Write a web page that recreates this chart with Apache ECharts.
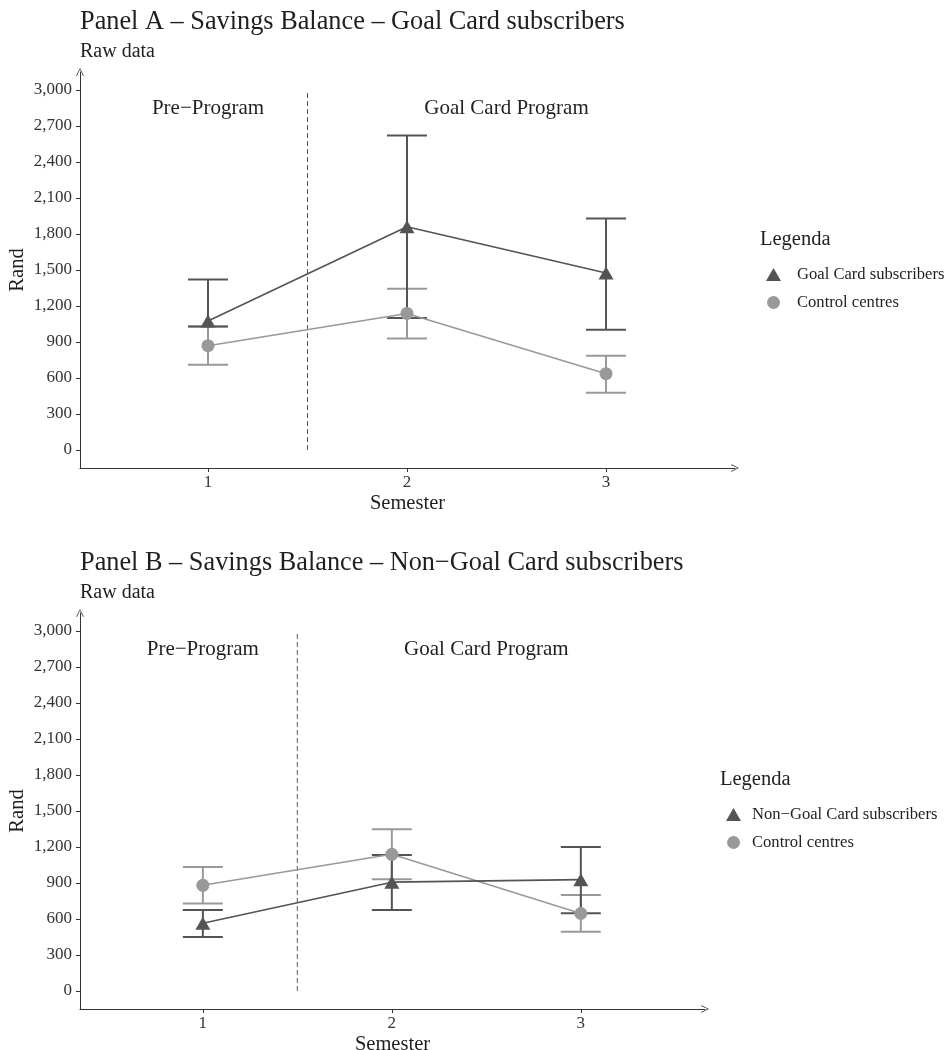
<!DOCTYPE html>
<html>
<head>
<meta charset="utf-8">
<script src="https://cdn.jsdelivr.net/npm/echarts@6/dist/echarts.min.js"></script>
<style>
html,body{margin:0;padding:0;background:#fff;}
#chart{width:947px;height:1050px;}
</style>
</head>
<body>
<div id="chart"></div>
<script>
// ---- data ----
const semesters = [1, 2, 3];
const yTicks = [0, 300, 600, 900, 1200, 1500, 1800, 2100, 2400, 2700, 3000];
const phaseLabels = ['Pre−Program', 'Goal Card Program'];
const phaseX = [1, 2.5];
const phaseY = 2845;
const dividerX = 1.5;

// Panel A
const A_goalMean = [1075, 1860, 1475];
const A_goalLow  = [1030, 1100, 1003];
const A_goalHigh = [1420, 2620, 1930];
const A_ctrlMean = [869, 1138, 636];
const A_ctrlLow  = [711, 930, 478];
const A_ctrlHigh = [1030, 1344, 786];

// Panel B
const B_nonMean  = [565, 907, 928];
const B_nonLow   = [450, 676, 648];
const B_nonHigh  = [675, 1133, 1200];
const B_ctrlMean = [881, 1139, 646];
const B_ctrlLow  = [729, 931, 493];
const B_ctrlHigh = [1033, 1347, 800];

// ---- styling ----
const FONT = 'Liberation Serif';
const DARK = '#545454';
const LIGHT = '#999999';
const AXIS = '#333333';
const TXT = '#1f1f1f';
const CHEVRON = 'path://M0,10L5,0L10,10L9.1,10.6L5,1.8L0.9,10.6Z';

function pts(xs, ys) { return xs.map((x, i) => [x, ys[i]]); }
function bars(xs, lo, hi) { return xs.map((x, i) => [x, lo[i], hi[i]]); }

function errRender(color) {
  return function (params, api) {
    const x = api.value(0), lo = api.value(1), hi = api.value(2);
    const a = api.coord([x, lo]), b = api.coord([x, hi]);
    const hw = 20;
    const st = { stroke: color, lineWidth: 2 };
    return {
      type: 'group',
      children: [
        { type: 'line', shape: { x1: a[0], y1: a[1], x2: b[0], y2: b[1] }, style: st },
        { type: 'line', shape: { x1: a[0] - hw, y1: a[1], x2: a[0] + hw, y2: a[1] }, style: st },
        { type: 'line', shape: { x1: b[0] - hw, y1: b[1], x2: b[0] + hw, y2: b[1] }, style: st }
      ]
    };
  };
}

function xAxisDef(gi, min, max) {
  return {
    type: 'value', gridIndex: gi, min: min, max: max,
    name: 'Semester', nameLocation: 'middle', nameGap: 25, nameMoveOverlap: false,
    nameTextStyle: { fontFamily: FONT, fontSize: 20.5, color: TXT },
    axisLine: { onZero: false, lineStyle: { color: AXIS, width: 1 }, symbol: ['none', CHEVRON], symbolSize: [15, 8] },
    axisTick: { show: true, length: 4, customValues: semesters, lineStyle: { color: AXIS } },
    axisLabel: { customValues: semesters, fontFamily: FONT, fontSize: 17, color: '#333', margin: 6 },
    splitLine: { show: false }
  };
}
function yAxisDef(gi) {
  return {
    type: 'value', gridIndex: gi, min: -150, max: 3150,
    name: 'Rand', nameLocation: 'middle', nameGap: 52, nameRotate: 90, nameMoveOverlap: false,
    nameTextStyle: { fontFamily: FONT, fontSize: 20.5, color: TXT },
    axisLine: { show: true, onZero: false, lineStyle: { color: AXIS, width: 1 }, symbol: ['none', CHEVRON], symbolSize: [15, 8] },
    axisTick: { show: true, length: 4, customValues: yTicks, lineStyle: { color: AXIS } },
    axisLabel: { customValues: yTicks, fontFamily: FONT, fontSize: 17, color: '#333', margin: 8,
      formatter: v => Number(v).toLocaleString('en-US') },
    splitLine: { show: false }
  };
}

function panelSeries(gi, darkName, dMean, dLow, dHigh, cMean, cLow, cHigh) {
  return [
    { type: 'line', xAxisIndex: gi, yAxisIndex: gi, data: [[dividerX, 0], [dividerX, 3000]],
      symbol: 'none', silent: true, lineStyle: { color: '#555', width: 1, type: [5, 3] } },
    { type: 'custom', xAxisIndex: gi, yAxisIndex: gi, name: 'Control centres', silent: true,
      renderItem: errRender(LIGHT), data: bars(semesters, cLow, cHigh), itemStyle: { color: LIGHT },
      encode: { x: 0, y: [1, 2] }, z: 2 },
    { type: 'custom', xAxisIndex: gi, yAxisIndex: gi, name: darkName, silent: true,
      renderItem: errRender(DARK), data: bars(semesters, dLow, dHigh), itemStyle: { color: DARK },
      encode: { x: 0, y: [1, 2] }, z: 3 },
    { type: 'line', xAxisIndex: gi, yAxisIndex: gi, name: 'Control centres', data: pts(semesters, cMean),
      symbol: 'circle', symbolSize: 13, itemStyle: { color: LIGHT }, lineStyle: { color: LIGHT, width: 1.6 }, z: 4 },
    { type: 'line', xAxisIndex: gi, yAxisIndex: gi, name: darkName, data: pts(semesters, dMean),
      symbol: 'triangle', symbolSize: [15, 13], itemStyle: { color: DARK }, lineStyle: { color: DARK, width: 1.6 }, z: 5 },
    { type: 'scatter', xAxisIndex: gi, yAxisIndex: gi, symbolSize: 0, silent: true,
      itemStyle: { opacity: 1 },
      data: phaseLabels.map((t, i) => ({ name: t, value: [phaseX[i], phaseY] })),
      label: { show: true, position: 'inside', formatter: '{b}', fontFamily: FONT, fontSize: 21, color: TXT } }
  ];
}

function legendDef(left, top, darkName, pad) {
  return {
    orient: 'vertical', left: left, top: top, padding: 0,
    itemWidth: 15, itemHeight: 13, itemGap: 11, selectedMode: false,
    textStyle: { fontFamily: FONT, fontSize: 16.6, color: TXT, padding: [0, 0, 0, pad] },
    data: [
      { name: darkName, icon: 'triangle', itemStyle: { color: DARK } },
      { name: 'Control centres', icon: 'circle', itemStyle: { color: LIGHT } }
    ]
  };
}

const chart = echarts.init(document.getElementById('chart'), null, { renderer: 'canvas' });
chart.setOption({
  animation: false,
  backgroundColor: '#fff',
  title: [
    { text: 'Panel A – Savings Balance – Goal Card subscribers', left: 80, top: 9, padding: 0,
      textStyle: { fontFamily: FONT, fontSize: 26.3, fontWeight: 'normal', color: TXT } },
    { text: 'Raw data', left: 80, top: 42, padding: 0,
      textStyle: { fontFamily: FONT, fontSize: 20, fontWeight: 'normal', color: TXT } },
    { text: 'Legenda', left: 760, top: 229, padding: 0,
      textStyle: { fontFamily: FONT, fontSize: 20.5, fontWeight: 'normal', color: TXT } },
    { text: 'Panel B – Savings Balance – Non−Goal Card subscribers', left: 80, top: 550, padding: 0,
      textStyle: { fontFamily: FONT, fontSize: 26.3, fontWeight: 'normal', color: TXT } },
    { text: 'Raw data', left: 80, top: 583, padding: 0,
      textStyle: { fontFamily: FONT, fontSize: 20, fontWeight: 'normal', color: TXT } },
    { text: 'Legenda', left: 720, top: 769, padding: 0,
      textStyle: { fontFamily: FONT, fontSize: 20.5, fontWeight: 'normal', color: TXT } }
  ],
  legend: [
    legendDef(766, 266, 'Goal Card subscribers', 11),
    legendDef(726, 806, 'Non−Goal Card subscribers', 6)
  ],
  grid: [
    { left: 80, top: 72, width: 655, height: 396, outerBoundsMode: 'none', containLabel: false },
    { left: 80, top: 613, width: 625, height: 396, outerBoundsMode: 'none', containLabel: false }
  ],
  xAxis: [xAxisDef(0, 0.357, 3.648), xAxisDef(1, 0.35, 3.657)],
  yAxis: [yAxisDef(0), yAxisDef(1)],
  series: [].concat(
    panelSeries(0, 'Goal Card subscribers', A_goalMean, A_goalLow, A_goalHigh, A_ctrlMean, A_ctrlLow, A_ctrlHigh),
    panelSeries(1, 'Non−Goal Card subscribers', B_nonMean, B_nonLow, B_nonHigh, B_ctrlMean, B_ctrlLow, B_ctrlHigh)
  )
});
</script>
</body>
</html>
